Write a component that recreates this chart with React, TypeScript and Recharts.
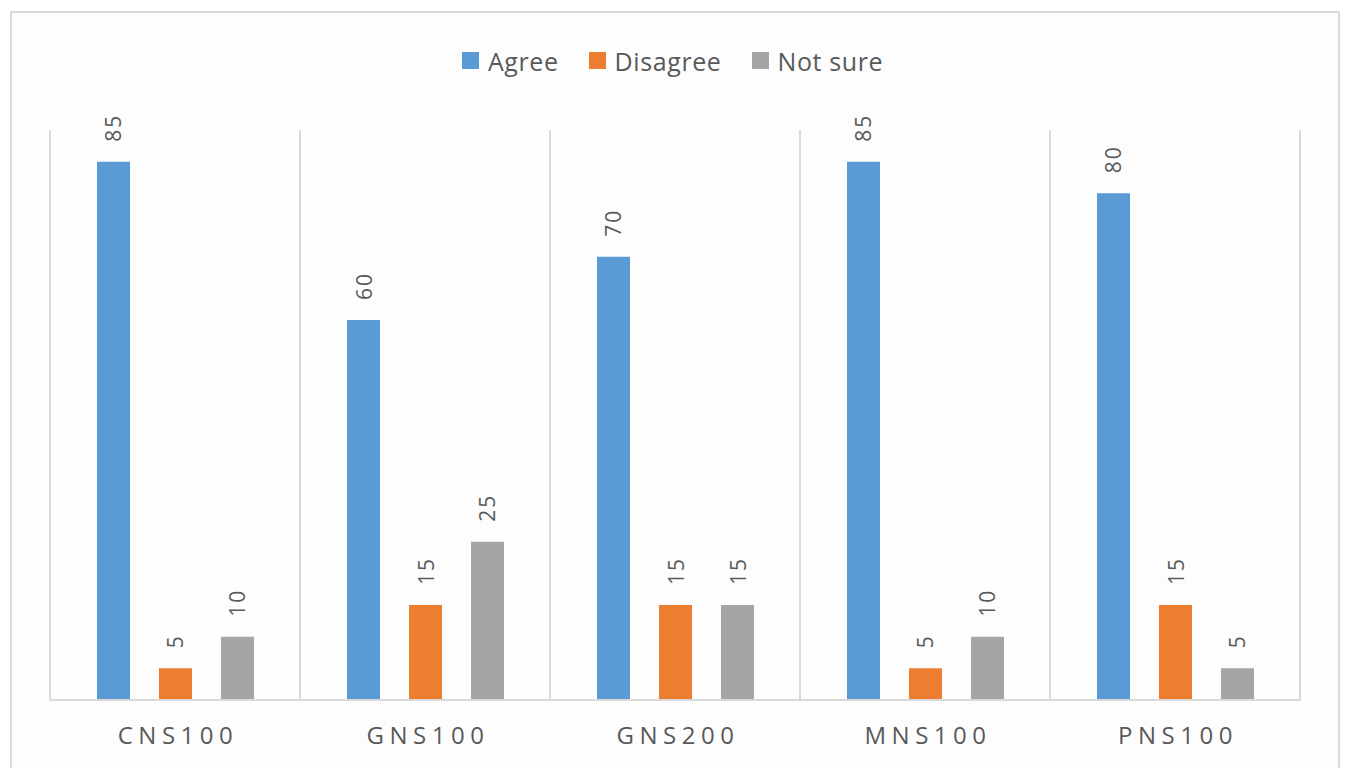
import React from 'react';
import { BarChart, Bar, XAxis, YAxis, CartesianGrid, Legend, LabelList } from 'recharts';

const categories = ['CNS100', 'GNS100', 'GNS200', 'MNS100', 'PNS100'];
const agree = [85, 60, 70, 85, 80];
const disagree = [5, 15, 15, 5, 15];
const notSure = [10, 25, 15, 10, 5];

const series = [
  { key: 'agree', name: 'Agree', color: '#5B9BD5' },
  { key: 'disagree', name: 'Disagree', color: '#ED7D31' },
  { key: 'notSure', name: 'Not sure', color: '#A5A5A5' },
];

const data = categories.map((name, i) => ({
  name,
  agree: agree[i],
  disagree: disagree[i],
  notSure: notSure[i],
}));

const FONT = '"Open Sans", "DejaVu Sans", sans-serif';
const TEXT = '#595959';
const GRID = '#D9D9D9';

// value label written upwards above each bar
const ValueLabel = (props: any) => {
  const { x, y, width, value } = props;
  const cx = x + width / 2;
  const ty = y - 20;
  return (
    <text
      x={cx}
      y={ty}
      transform={`rotate(-90 ${cx} ${ty})`}
      textAnchor="start"
      dominantBaseline="central"
      fill={TEXT}
      fontSize={21}
      letterSpacing={2}
      fontFamily={FONT}
    >
      {value}
    </text>
  );
};

const LegendContent = () => (
  <div style={{ display: 'flex', justifyContent: 'center', fontFamily: FONT, fontSize: 25, color: TEXT, height: 33 }}>
    {series.map((s) => (
      <div key={s.key} style={{ display: 'flex', alignItems: 'center', margin: '0 15px' }}>
        <span style={{ width: 17, height: 17, background: s.color, marginRight: 9, display: 'inline-block' }} />
        <span style={{ letterSpacing: 0.6 }}>{s.name}</span>
      </div>
    ))}
  </div>
);

const XTick = (props: any) => {
  const { x, y, payload } = props;
  return (
    <text
      x={x + 3}
      y={y + 26}
      textAnchor="middle"
      dominantBaseline="central"
      fill={TEXT}
      fontSize={24}
      letterSpacing={5.5}
      fontFamily={FONT}
    >
      {payload.value}
    </text>
  );
};

export default function App() {
  return (
    <div style={{ position: 'absolute', left: 0, top: 0, width: 1345, height: 768, background: '#FFFFFF', overflow: 'hidden' }}>
      <div
        style={{
          position: 'absolute',
          left: 10,
          top: 11,
          width: 1326,
          height: 780,
          border: '2px solid #D9D9D9',
          background: '#FDFDFD',
        }}
      />
      <div style={{ position: 'absolute', left: 0, top: 0 }}>
        <BarChart
          width={1345}
          height={768}
          data={data}
          margin={{ top: 97, right: 45, bottom: 38, left: 50 }}
          barSize={33}
          barGap={29}
        >
          <CartesianGrid
            horizontal={false}
            stroke={GRID}
            strokeWidth={2}
            verticalCoordinatesGenerator={({ offset }: any) =>
              [0, 1, 2, 3, 4, 5].map((i) => offset.left + (i * offset.width) / 5)
            }
          />
          <XAxis
            dataKey="name"
            height={30}
            axisLine={{ stroke: GRID, strokeWidth: 2 }}
            tickLine={false}
            tick={<XTick />}
            interval={0}
          />
          <YAxis hide domain={[0, 90]} />
          <Legend verticalAlign="top" content={<LegendContent />} wrapperStyle={{ top: 44, left: 0, width: 1345 }} />
          {series.map((s) => (
            <Bar key={s.key} dataKey={s.key} name={s.name} fill={s.color} isAnimationActive={false}>
              <LabelList dataKey={s.key} content={<ValueLabel />} />
            </Bar>
          ))}
        </BarChart>
      </div>
    </div>
  );
}
